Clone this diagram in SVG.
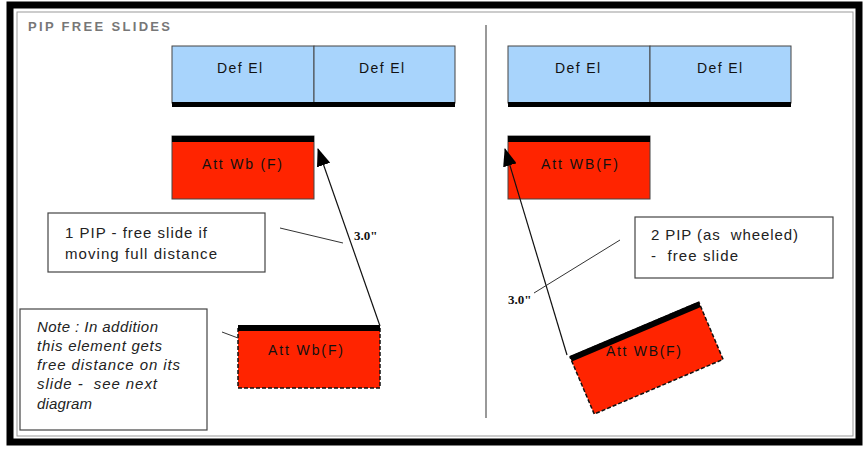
<svg xmlns="http://www.w3.org/2000/svg" width="866" height="450" viewBox="0 0 866 450">
  <style>
    .lbl { font-family: "Liberation Sans", Arial, sans-serif; font-size: 14px; fill: #111; }
    .call { font-family: "Liberation Sans", Arial, sans-serif; font-size: 15px; fill: #222; }
    .note { font-family: "Liberation Sans", Arial, sans-serif; font-size: 15px; font-style: italic; fill: #222; }
    .dim { font-family: "Liberation Serif", "Times New Roman", serif; font-size: 13px; font-weight: bold; fill: #111; }
    .def { fill: #a8d4fc; stroke: #444; stroke-width: 1; }
    .att { fill: #ff2400; stroke: #444; stroke-width: 1; }
    .attd { fill: #ff2400; stroke: #111; stroke-width: 1.5; stroke-dasharray: 4 2; }
    .box { fill: #fff; stroke: #444; stroke-width: 1.2; }
    .arrow { stroke: #111; stroke-width: 1.2; fill: none; }
    .lead { stroke: #333; stroke-width: 1; fill: none; }
  </style>
  <defs>
    <marker id="ah" markerUnits="userSpaceOnUse" markerWidth="18" markerHeight="14" refX="17" refY="7" orient="auto">
      <path d="M0,0 L18,7 L0,14 z" fill="#000"/>
    </marker>
  </defs>
  <rect width="866" height="450" fill="#fff"/>
  <g id="frame">
    <rect x="10" y="5" width="849" height="437" fill="none" stroke="#000" stroke-width="7"/>
    <rect x="17" y="12" width="836" height="424" fill="none" stroke="#999" stroke-width="1"/>
    <line x1="486" y1="25" x2="486" y2="418" stroke="#999" stroke-width="2"/>
  </g>
  <text id="title" x="28" y="31" font-family="Liberation Sans, Arial, sans-serif" font-size="13" font-weight="bold" fill="#777" textLength="142" lengthAdjust="spacing">PIP FREE SLIDES</text>

  <g id="def-el-1">
    <rect class="def" x="172" y="46" width="142" height="57"/>
    <text class="lbl" x="217" y="73" textLength="45">Def El</text>
  </g>
  <g id="def-el-2">
    <rect class="def" x="314" y="46" width="141" height="57"/>
    <text class="lbl" x="359" y="73" textLength="45">Def El</text>
  </g>
  <rect x="172" y="102" width="283" height="5" fill="#000"/>
  <g id="def-el-3">
    <rect class="def" x="508" y="46" width="142" height="57"/>
    <text class="lbl" x="555" y="73" textLength="45">Def El</text>
  </g>
  <g id="def-el-4">
    <rect class="def" x="650" y="46" width="141" height="57"/>
    <text class="lbl" x="697" y="73" textLength="45">Def El</text>
  </g>
  <rect x="508" y="102" width="283" height="5" fill="#000"/>

  <g id="att-left-top">
    <rect class="att" x="172" y="136" width="142" height="63"/>
    <rect x="172" y="136" width="142" height="6" fill="#000"/>
    <text class="lbl" x="202" y="169" textLength="80">Att Wb (F)</text>
  </g>
  <g id="att-right-top">
    <rect class="att" x="508" y="136" width="142" height="63"/>
    <rect x="508" y="136" width="142" height="6" fill="#000"/>
    <text class="lbl" x="541" y="169" textLength="77">Att WB(F)</text>
  </g>
  <g id="att-left-bottom">
    <rect class="attd" x="238" y="326" width="142" height="62"/>
    <rect x="238" y="325" width="142" height="6" fill="#000"/>
    <text class="lbl" x="268" y="355" textLength="75">Att Wb(F)</text>
  </g>
  <g id="att-right-bottom">
    <g transform="translate(570,357) rotate(-23)">
      <rect class="attd" x="0" y="0" width="140" height="62"/>
      <rect x="0" y="-1" width="140" height="6" fill="#000"/>
    </g>
    <text class="lbl" x="606" y="356" textLength="75">Att WB(F)</text>
  </g>

  <g id="callout-1">
    <rect class="box" x="48" y="213" width="217" height="59"/>
    <text class="call" x="65" y="238" textLength="142">1 PIP - free slide if</text>
    <text class="call" x="65" y="259" textLength="152">moving full distance</text>
  </g>
  <g id="callout-2">
    <rect class="box" x="635" y="217" width="198" height="61"/>
    <text class="call" x="651" y="240" textLength="147" xml:space="preserve">2 PIP (as  wheeled)</text>
    <text class="call" x="651" y="261" textLength="87" xml:space="preserve">-  free slide</text>
  </g>
  <g id="note">
    <rect class="box" x="20" y="309" width="187" height="121"/>
    <text class="note" x="37" y="332" textLength="121">Note : In addition</text>
    <text class="note" x="37" y="351" textLength="125">this element gets</text>
    <text class="note" x="37" y="370" textLength="143">free distance on its</text>
    <text class="note" x="37" y="389" textLength="120" xml:space="preserve">slide -  see next</text>
    <text class="note" x="37" y="409" textLength="55">diagram</text>
  </g>

  <g id="connectors">
    <line class="arrow" x1="380" y1="326" x2="318" y2="149" marker-end="url(#ah)"/>
    <line class="arrow" x1="567" y1="355" x2="505" y2="149" marker-end="url(#ah)"/>
    <line class="lead" x1="280" y1="228" x2="343" y2="243"/>
    <line class="lead" x1="620" y1="240" x2="534" y2="293"/>
    <line class="lead" x1="222" y1="332" x2="238" y2="338"/>
  </g>
  <text class="dim" x="354" y="240">3.0"</text>
  <text class="dim" x="508" y="304">3.0"</text>
</svg>
